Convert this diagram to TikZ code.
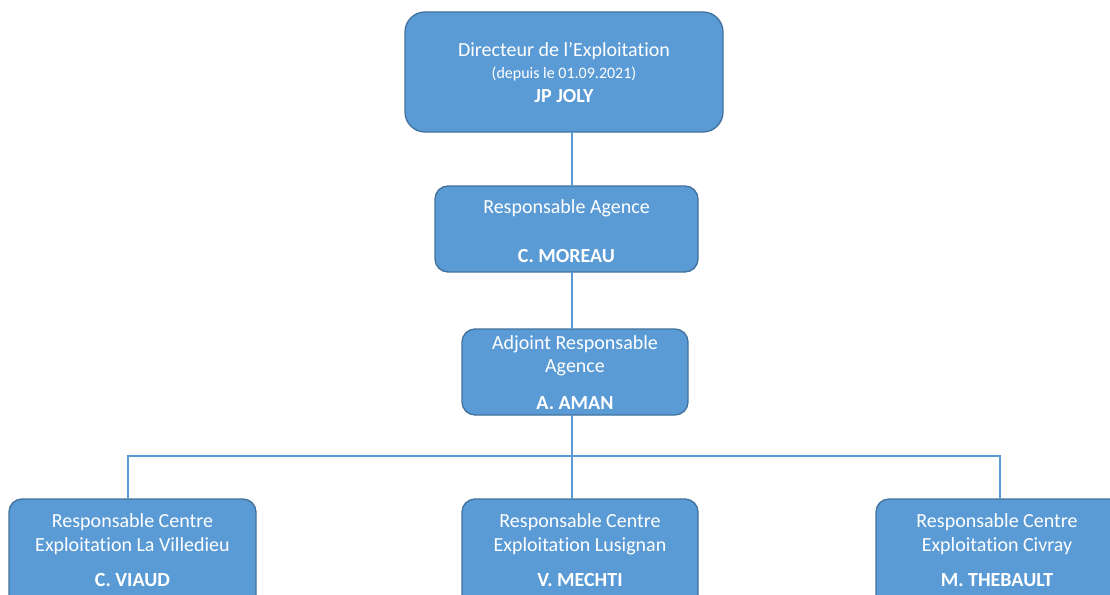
\documentclass[tikz,border=0pt]{standalone}
\usepackage{fontspec}
\setmainfont{Carlito}[Ligatures=CommonOff]
\definecolor{boxfill}{HTML}{5B9BD5}
\definecolor{boxline}{HTML}{41719C}
\definecolor{conn}{HTML}{5B9BD5}
\begin{document}
\begin{tikzpicture}[x=1pt,y=-1pt,
  orgbox/.style={draw=boxline,line width=1.3pt,fill=boxfill,rounded corners=13pt},
  txt/.style={text=white,font=\fontsize{20}{22}\selectfont,inner sep=0pt,anchor=center},
  small/.style={text=white,font=\fontsize{16}{18}\selectfont,inner sep=0pt,anchor=center},
  bold/.style={text=white,font=\fontsize{20}{22}\selectfont\bfseries,inner sep=0pt,anchor=center},
  conn/.style={draw=conn,line width=2.4pt}]
\fill[white] (0,0) rectangle (1110,594);
\clip (0,0) rectangle (1110,594);
% boxes
\node[orgbox,rounded corners=20pt,minimum width=318pt,minimum height=120pt] (dir) at (564,72) {};
\node[orgbox,minimum width=263pt,minimum height=86pt] (ag) at (566.5,229) {};
\node[orgbox,minimum width=226pt,minimum height=86pt] (adj) at (575,372) {};
\node[orgbox,minimum width=247pt,minimum height=115pt] (b1) at (132.5,556.5) {};
\node[orgbox,minimum width=236pt,minimum height=115pt] (b2) at (580,556.5) {};
\node[orgbox,minimum width=250pt,minimum height=115pt] (b3) at (1001,556.5) {};
% connectors
\coordinate (c1) at (572,132);
\coordinate (c2) at (572,186);
\coordinate (c3) at (572,272);
\coordinate (c4) at (572,329);
\coordinate (c5) at (572,415);
\coordinate (h) at (572,456);
\coordinate (hl) at (128,456);
\coordinate (hr) at (1000,456);
\coordinate (e1) at (128,499);
\coordinate (e2) at (572,499);
\coordinate (e3) at (1000,499);
\draw[conn] (c1) -- (c2);
\draw[conn] (c3) -- (c4);
\draw[conn] (c5) -- (h);
\draw[conn] (e1) -- (hl) -- (hr) -- (e3);
\draw[conn] (h) -- (e2);
% texts
\node[txt] (t1) at (564,51) {Directeur de l’Exploitation};
\node[small] (t2) at (564,74) {(depuis le 01.09.2021)};
\node[bold] (t3) at (564,96) {JP JOLY};
\node[txt] (t4) at (566.5,208) {Responsable Agence};
\node[bold] (t5) at (566.5,256) {C. MOREAU};
\node[txt] (t6) at (575,344) {Adjoint Responsable};
\node[txt] (t7) at (575,368) {Agence};
\node[bold] (t8) at (575,403) {A. AMAN};
\node[txt] (t9) at (132.5,522) {Responsable Centre};
\node[txt] (t10) at (132.5,546) {Exploitation La Villedieu};
\node[bold] (t11) at (132.5,580) {C. VIAUD};
\node[txt] (t12) at (580,522) {Responsable Centre};
\node[txt] (t13) at (580,546) {Exploitation Lusignan};
\node[bold] (t14) at (580,580) {V. MECHTI};
\node[txt] (t15) at (997,522) {Responsable Centre};
\node[txt] (t16) at (997,546) {Exploitation Civray};
\node[bold] (t17) at (997,580) {M. THEBAULT};
\end{tikzpicture}
\end{document}
